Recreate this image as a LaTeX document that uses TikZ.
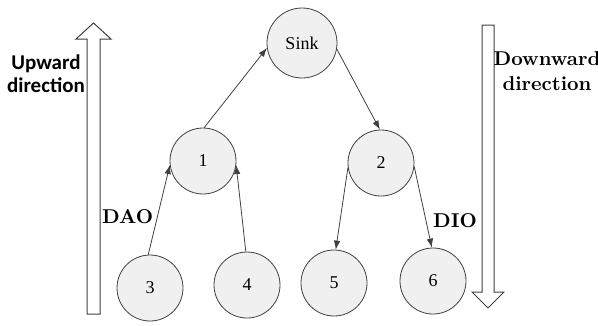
\documentclass[tikz,border=0pt]{standalone}
\usepackage{fontspec}
\setmainfont{Liberation Serif}
\newfontfamily\tmsfam{Liberation Serif}
\newfontfamily\tmsbold{lmroman10-bold.otf}
\newfontfamily\califam{Carlito}
\usetikzlibrary{arrows.meta}
\definecolor{nodefill}{RGB}{240,240,240}
\definecolor{linec}{RGB}{64,64,64}
\tikzset{
  nd/.style={circle, draw=linec, line width=0.8pt, fill=nodefill, minimum size=66pt, inner sep=0pt, font=\tmsfam\fontsize{18}{20}\selectfont},
  conn/.style={draw=linec, line width=0.8pt, -{Latex[length=9pt,width=6.5pt]}},
  bigarrow/.style={draw=linec, line width=1pt, fill=white},
  lbl/.style={font=\tmsbold\fontsize{20}{25}\selectfont, inner sep=0pt}
}
\begin{document}
\begin{tikzpicture}[x=1pt,y=-1pt]
\useasboundingbox (0,0) rectangle (598,325);
% hollow arrows
\draw[bigarrow] (87,314) -- (87,39) -- (76,39) -- (93.5,23) -- (111,39) -- (100,39) -- (100,314) -- cycle;
\draw[bigarrow] (482,25) -- (494,25) -- (494,292) -- (504,292) -- (488,308) -- (472,292) -- (482,292) -- cycle;
% nodes
\node[nd, minimum size=70pt] (sink) at (302,43) {Sink};
\node[nd] (n1) at (203,161) {1};
\node[nd] (n2) at (381,163) {2};
\node[nd] (n3) at (150,288) {3};
\node[nd] (n4) at (247,285) {4};
\node[nd] (n5) at (334,283) {5};
\node[nd] (n6) at (433,281) {6};
% connectors
\draw[conn] (n1.88) -- (sink.188);
\draw[conn] (sink.-10) -- (n2.92);
\draw[conn] (n3.93) -- (n1.187);
\draw[conn] (n4.92) -- (n1.-7);
\draw[conn] (n2.188) -- (n5.87);
\draw[conn] (n2.-6) -- (n6.92);
% labels
\node[lbl, anchor=base west] (dao) at (102,223) {DAO};
\node[lbl, anchor=base west] (dio) at (433,227) {DIO};
\node[lbl, font=\califam\bfseries\fontsize{21}{23}\selectfont, align=center, anchor=north] (up) at (46,55) {Upward\\direction};
\node[lbl, align=center, anchor=north] (down) at (547,51) {Downward\\direction};
\end{tikzpicture}
\end{document}
